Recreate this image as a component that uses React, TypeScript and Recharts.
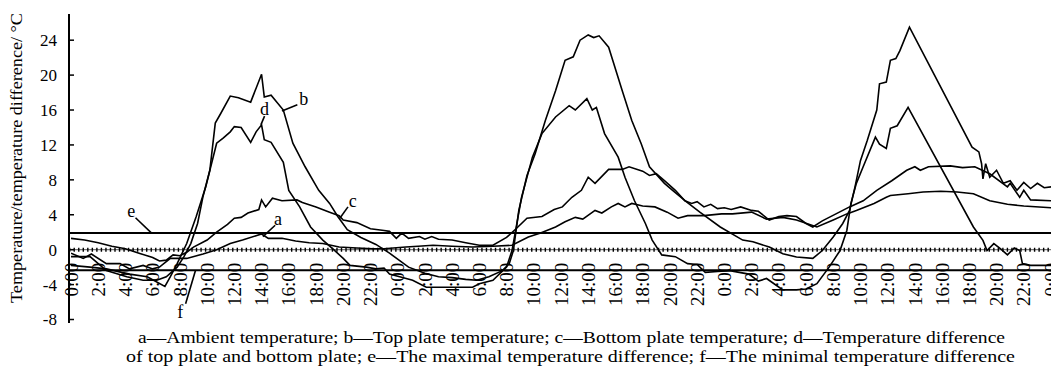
import { LineChart, Line, XAxis, YAxis, ReferenceLine, ReferenceDot } from 'recharts';

type Pt = [number, number]; // [hour since start, °C]

// a — ambient temperature
const AMBIENT: Pt[] = [
  [0, -0.4], [0.9, -1.0], [1.5, -0.5], [2.6, -1.6], [3.6, -1.6], [4.3, -2.2], [5.3, -1.8], [6, -2.2],
  [6.5, -2.0], [7.3, -1.0], [8.5, -1.0], [9.7, -0.5], [10.7, 0.0], [11.7, 0.7], [12.6, 1.1], [13.6, 1.6],
  [14, 1.8], [14.5, 1.3], [15.5, 1.3], [16.5, 1.0], [17.5, 0.8], [18.5, 0.7], [19.7, 0.3], [21, 0.2],
  [22.2, 0.1], [23, 0.1], [24.6, 0.3], [25.5, 0.4], [26.6, 0.5], [28, 0.4], [29.5, 0.3], [31, 0.4],
  [32.4, 0.5], [33.6, 1.45], [34.5, 1.9], [35.6, 2.6], [36.3, 3.2], [37.05, 3.7], [37.6, 3.5], [38.5, 4.5],
  [39, 4.2], [39.7, 4.9], [40.2, 5.3], [40.7, 4.9], [41.2, 5.3], [42, 5.0], [42.9, 4.9], [43.8, 4.3],
  [44.6, 3.6], [45.3, 3.9], [46.5, 3.9], [47.8, 4.1], [48.6, 4.1], [50, 4.3], [51.1, 3.5], [52.3, 3.7],
  [53.3, 3.4], [54.8, 2.6], [56, 3.4], [57, 4.1], [57.7, 4.5], [59, 5.3], [59.9, 6.0], [60.2, 6.2],
  [61.5, 6.4], [62.6, 6.6], [63.9, 6.7], [65.1, 6.6], [66.3, 6.4], [67.5, 5.6], [68.8, 5.2], [70, 5.0],
  [72, 4.8],
];

// b — top plate temperature
const TOP_PLATE: Pt[] = [
  [0, -0.8], [1.4, -0.8], [2.6, -2.4], [4.1, -3.1], [5.3, -3.5], [6.3, -3.5], [7, -3.1], [7.8, -2.0],
  [8.3, -0.8], [8.8, 0.7], [9.3, 3.0], [9.7, 6.1], [10.2, 9.1], [10.6, 14.5], [11, 15.6], [11.7, 17.6],
  [12.3, 17.4], [13.2, 16.9], [14, 20.1], [14.2, 17.5], [14.7, 17.7], [15.6, 16.0], [16.3, 12.2], [17.2, 9.5],
  [18.2, 6.8], [19, 5.3], [19.6, 3.8], [20.3, 2.3], [21.3, 1.4], [22.4, 0.6], [23.4, -0.4], [24.2, -1.3],
  [24.8, -2.0], [26, -2.7], [27, -3.1], [28, -3.2], [29, -3.4], [29.8, -3.5], [30.7, -3.1], [31.7, -2.4],
  [32.2, -1.6], [32.5, -0.1], [32.9, 4.5], [33.5, 8.5], [34.1, 11.0], [34.85, 14.8], [35.6, 18.2], [36.3, 21.7],
  [36.9, 22.1], [37.4, 24.0], [38, 24.6], [38.4, 24.3], [38.8, 24.5], [39.5, 23.2], [40.5, 18.2], [41.2, 14.8],
  [41.9, 12.1], [42.5, 9.5], [43.6, 7.6], [44.2, 6.8], [45.2, 5.5], [46.2, 4.3], [47.7, 2.6], [49.35, 1.1],
  [50.1, 0.9], [51.3, 0.3], [52.3, -0.46], [53.3, -0.84], [54.5, -1.0], [55.2, -0.1], [56, 1.45], [56.7, 3.0],
  [57.2, 4.5], [57.6, 7.2], [58, 10.2], [58.5, 12.5], [59.2, 16.0], [59.4, 19.0], [59.9, 19.2], [60.2, 21.7],
  [60.6, 21.9], [60.9, 22.8], [61.6, 25.5], [66.2, 11.75], [66.7, 11.2], [66.9, 9.85], [67, 8.1], [67.2, 9.85],
  [67.5, 8.3], [68, 9.1], [68.5, 7.6], [69, 7.9], [69.5, 6.8], [70, 7.7], [70.5, 7.0], [71, 7.6],
  [71.5, 7.1], [72, 7.2],
];

// c — bottom plate temperature
const BOTTOM_PLATE: Pt[] = [
  [0, 1.3], [1, 1.1], [2, 0.8], [3, 0.4], [4, 0.1], [5, -0.4], [6, -0.9], [6.5, -1.3],
  [7, -1.2], [7.5, -0.6], [8, -0.7], [8.5, -0.3], [9, 0.3], [10, 1.1], [10.7, 2.0], [11.5, 2.9],
  [12, 3.6], [12.5, 3.7], [13, 4.2], [13.8, 4.6], [14, 5.7], [14.3, 4.9], [14.8, 5.9], [15.5, 5.6],
  [16.6, 5.7], [17, 5.4], [18, 4.9], [19, 4.3], [19.7, 3.9], [20, 3.4], [21, 3.1], [22, 2.4],
  [23, 2.2], [23.4, 2.1], [23.9, 1.3], [24.3, 1.9], [24.8, 1.3], [25.6, 1.5], [26, 1.2], [26.5, 1.5],
  [27, 1.2], [28, 1.1], [29, 0.8], [30, 0.5], [31, 0.5], [32, 1.4], [32.7, 2.4], [33.5, 3.6],
  [34.6, 3.8], [35.5, 4.6], [36.1, 4.9], [36.8, 6.0], [37.5, 6.8], [38, 8.3], [38.5, 7.6], [39, 8.4],
  [39.5, 9.2], [40.5, 9.2], [41, 9.5], [42, 9.0], [42.5, 8.5], [43, 8.7], [43.6, 7.9], [44.4, 6.8],
  [45.1, 5.6], [45.6, 5.3], [46, 5.5], [46.5, 4.9], [47, 5.2], [47.5, 4.7], [48, 4.8], [48.5, 4.6],
  [49.2, 4.9], [50, 4.5], [50.5, 4.4], [51.3, 3.4], [52, 3.8], [52.6, 3.9], [53.3, 3.8], [54, 3.0],
  [54.5, 2.6], [55.2, 3.3], [56.2, 4.1], [57.2, 4.9], [58.2, 5.6], [59.2, 6.8], [60.3, 7.9], [61.4, 9.1],
  [62, 9.5], [62.4, 9.1], [63, 9.5], [64.6, 9.6], [65.5, 9.4], [66.4, 9.5], [67.5, 8.7], [68.8, 7.2],
  [69, 7.6], [69.7, 6.0], [70, 6.8], [70.5, 5.7], [72, 5.6],
];

// d — temperature difference of top plate and bottom plate
const PLATE_DIFF: Pt[] = [
  [0, -1.8], [1.4, -2.0], [2.6, -2.2], [4.3, -2.8], [5.6, -3.1], [6.9, -4.2], [7.3, -3.1], [7.8, -1.6],
  [8.5, 0.7], [9.2, 3.8], [9.9, 7.2], [10.7, 12.2], [11.2, 12.8], [11.7, 13.5], [12, 14.1], [12.5, 14.0],
  [13.2, 12.3], [13.6, 13.5], [14, 14.3], [14.2, 12.6], [14.7, 12.3], [15.6, 10.0], [16, 6.8], [16.8, 4.9],
  [17.6, 2.6], [18.5, 1.1], [19.3, 0.0], [20, -1.0], [20.5, -1.8], [21.7, -2.0], [22.4, -2.2], [23, -2.1],
  [23.4, -2.8], [24.15, -3.1], [25.1, -3.5], [26.1, -4.3], [27, -4.3], [28, -4.3], [29.5, -4.3], [30, -3.9],
  [31, -3.5], [32, -2.0], [32.4, -0.1], [33.1, 6.0], [33.9, 10.6], [34.6, 13.3], [35.6, 15.2], [36.6, 16.5],
  [37.05, 16.0], [37.9, 17.3], [38.3, 16.0], [38.6, 16.3], [39.2, 13.3], [40.2, 10.6], [40.7, 8.3], [41.4, 5.6],
  [42.2, 3.0], [42.7, 1.1], [43.4, -0.6], [44.4, -0.8], [45.3, -1.6], [46, -1.7], [46.6, -2.6], [47.5, -2.5],
  [48.4, -2.4], [49.8, -2.8], [50.5, -3.6], [51.1, -3.3], [52.3, -4.6], [53.3, -4.6], [54, -4.5], [54.8, -3.9],
  [55.7, -2.0], [56.5, -0.1], [57, 2.2], [57.3, 5.3], [57.7, 7.6], [58.2, 9.5], [59.1, 12.9], [59.4, 12.1],
  [59.9, 11.6], [60.2, 13.9], [60.7, 14.2], [61.5, 16.3], [66.3, 2.6], [67, 1.07], [67.3, -0.1], [67.8, 0.7],
  [68.3, 0.1], [68.8, -0.6], [69.3, 0.2], [69.7, -0.1], [69.9, -1.6], [70.5, -1.8], [71, -1.8], [72, -1.8],
];

const MAX_DIFF = 1.9; // e
const MIN_DIFF = -2.35; // f

const Y_TICKS = [-8, -4, 0, 4, 8, 12, 16, 20, 24];
const X_TICKS = [0, 2, 4, 6, 8, 10, 12, 14, 16, 18, 20, 22, 24, 26, 28, 30, 32, 34, 36, 38, 40, 42, 44, 46, 48, 50, 52, 54, 56, 58, 60, 62, 64, 66, 68, 70, 72];

// letter labels with their leader lines: label pos, leader start, leader end
const CALLOUTS: { text: string; at: Pt; from: Pt; to: Pt }[] = [
  { text: 'a', at: [15.2, 3.6], from: [15.0, 2.8], to: [14.1, 1.5] },
  { text: 'b', at: [17.1, 17.3], from: [16.63, 16.6], to: [15.5, 15.9] },
  { text: 'c', at: [20.7, 5.6], from: [20.35, 4.9], to: [19.75, 3.6] },
  { text: 'd', at: [14.22, 16.15], from: [14.22, 15.3], to: [13.95, 14.3] },
  { text: 'e', at: [4.43, 4.5], from: [4.74, 3.66], to: [5.92, 1.9] },
  { text: 'f', at: [8.03, -7.15], from: [8.42, -6.2], to: [9.15, -2.35] },
];

const LEGEND_1 = 'a—Ambient temperature; b—Top plate temperature; c—Bottom plate temperature; d—Temperature difference';
const LEGEND_2 = 'of top plate and bottom plate; e—The maximal temperature difference; f—The minimal temperature difference';
const Y_TITLE = 'Temperature/temperature difference/ °C';

const FONT = "'Liberation Serif', 'Times New Roman', 'DejaVu Serif', serif";
const serif = { fontFamily: FONT };

const rows = (pts: Pt[]) => pts.map(([h, v]) => ({ h, v }));

function hourLabel(h: number) {
  return `${h % 24}:00`;
}

// time labels sit just under the zero line, inside the plot
function TimeLabel({ cx, cy, hour }: any) {
  if (cx == null || cy == null) return null;
  return (
    <text
      transform={`translate(${cx},${cy + 13}) rotate(-90)`}
      textAnchor="end"
      dy="0.35em"
      fontSize={19}
      style={serif}
      fill="#000"
    >
      {hourLabel(hour)}
    </text>
  );
}

function YTick({ x, y, payload }: any) {
  return (
    <g>
      <line x1={x} x2={x + 5} y1={y} y2={y} stroke="#000" strokeWidth={1.5} />
      <text x={x - 12} y={y} dy="0.35em" textAnchor="end" fontSize={17} style={serif} fill="#000">
        {payload.value}
      </text>
    </g>
  );
}

export default function App() {
  const series = [AMBIENT, TOP_PLATE, BOTTOM_PLATE, PLATE_DIFF];
  return (
    <div style={{ position: 'relative', width: 1051, height: 366, background: '#fff' }}>
      <style>{'body{margin:0;background:#fff}'}</style>
      <LineChart width={1051} height={366} margin={{ top: 14, right: 0, bottom: 43, left: 0 }}>
        <XAxis
          dataKey="h"
          type="number"
          domain={[0, 72]}
          ticks={X_TICKS}
          height={0}
          tick={false}
          tickLine={false}
          axisLine={{ stroke: '#000', strokeWidth: 2 }}
          padding={{ left: 2, right: 0 }}
          allowDataOverflow
        />
        <XAxis
          xAxisId="top"
          orientation="top"
          type="number"
          domain={[0, 72]}
          height={0}
          tick={false}
          tickLine={false}
          axisLine={{ stroke: '#000', strokeWidth: 2 }}
        />
        <YAxis
          type="number"
          domain={[-8.4, 27]}
          ticks={Y_TICKS}
          interval={0}
          width={69}
          tickSize={0}
          tickMargin={0}
          tickLine={false}
          tick={<YTick />}
          axisLine={{ stroke: '#000', strokeWidth: 2 }}
          allowDataOverflow
        />

        {/* zero line with minor ticks */}
        <ReferenceLine y={0} stroke="#777" strokeWidth={1.2} />
        <ReferenceLine y={0} stroke="#000" strokeWidth={4} strokeDasharray="1.4 3.13" />
        <ReferenceLine y={MAX_DIFF} stroke="#000" strokeWidth={2} />
        <ReferenceLine y={MIN_DIFF} stroke="#000" strokeWidth={2} />

        {X_TICKS.map((h) => (
          <ReferenceDot
            key={`x-${h}`}
            x={h}
            y={0}
            r={0}
            ifOverflow="visible"
            shape={(p: any) => <TimeLabel {...p} hour={h} />}
          />
        ))}

        {series.map((pts, i) => (
          <Line
            key={i}
            data={rows(pts)}
            dataKey="v"
            type="linear"
            stroke="#000"
            strokeWidth={1.6}
            dot={false}
            activeDot={false}
            isAnimationActive={false}
          />
        ))}

        {CALLOUTS.map((c) => (
          <ReferenceLine
            key={`l-${c.text}`}
            segment={[{ x: c.from[0], y: c.from[1] }, { x: c.to[0], y: c.to[1] }]}
            stroke="#000"
            strokeWidth={1.6}
          />
        ))}
        {CALLOUTS.map((c) => (
          <ReferenceDot
            key={`t-${c.text}`}
            x={c.at[0]}
            y={c.at[1]}
            r={0}
            fill="none"
            stroke="none"
            label={{ value: c.text, position: 'center', fontSize: 18, fill: '#000', style: serif }}
          />
        ))}
      </LineChart>

      <svg width={1051} height={366} style={{ position: 'absolute', left: 0, top: 0, pointerEvents: 'none' }}>
        <text
          transform="translate(22,158) rotate(-90)"
          textAnchor="middle"
          fontSize={17}
          style={serif}
          textLength={290}
          lengthAdjust="spacingAndGlyphs"
        >
          {Y_TITLE}
        </text>
        <text x={138} y={343} fontSize={16} style={serif} textLength={867} lengthAdjust="spacingAndGlyphs">
          {LEGEND_1}
        </text>
        <text x={126} y={362} fontSize={16} style={serif} textLength={889} lengthAdjust="spacingAndGlyphs">
          {LEGEND_2}
        </text>
      </svg>
    </div>
  );
}
